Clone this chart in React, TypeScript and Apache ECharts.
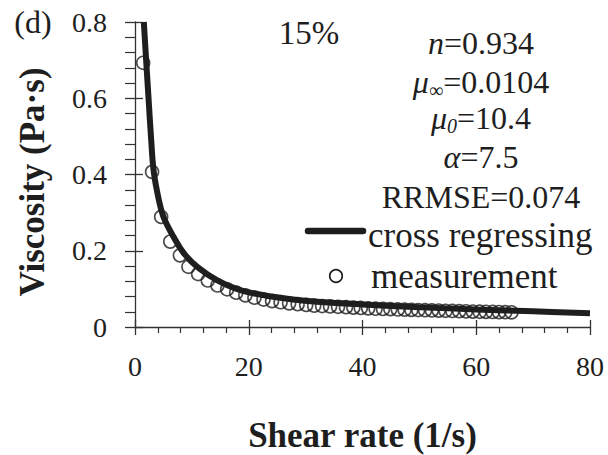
import React, { useEffect, useRef } from "react";
import * as echarts from "echarts";

// Cross-model regression curve
const curveX = [1.55, 2.0, 2.4, 2.85, 3.3, 4.2, 5.0, 6.8, 8.6, 11, 14.4, 18.5, 24, 32, 40, 50, 60, 70, 80];
const curveY = [0.8, 0.69, 0.595, 0.49, 0.407, 0.333, 0.289, 0.236, 0.193, 0.157, 0.123, 0.097, 0.08, 0.066, 0.059, 0.052, 0.046, 0.041, 0.036];

// Measurements
const measX = [1.44, 3.0, 4.6, 6.2, 7.9, 9.4, 11.1, 12.8, 14.5, 16.2, 17.8, 19.4, 21.0, 22.6, 24.1, 25.6, 27.1, 28.6, 30.1, 31.5, 32.9, 34.3, 35.7, 37.1, 38.4, 39.7, 41.0, 42.3, 43.6, 44.9, 46.2, 47.4, 48.6, 49.8, 51.0, 52.2, 53.4, 54.6, 55.8, 57.0, 58.2, 59.4, 60.6, 61.7, 62.9, 64.0, 65.1, 66.2];
const measY = [0.693, 0.407, 0.289, 0.224, 0.188, 0.158, 0.139, 0.122, 0.109, 0.099, 0.090, 0.083, 0.077, 0.072, 0.068, 0.065, 0.062, 0.060, 0.058, 0.056, 0.055, 0.054, 0.053, 0.052, 0.051, 0.050, 0.049, 0.048, 0.0475, 0.047, 0.046, 0.0455, 0.045, 0.0445, 0.044, 0.0435, 0.043, 0.0425, 0.042, 0.0415, 0.041, 0.0405, 0.040, 0.0397, 0.0394, 0.039, 0.0387, 0.0384];

const xRange = [0, 80];
const xInterval = 20;
const xTicks = [0, 20, 40, 60, 80];
const yRange = [0, 0.8];
const yInterval = 0.2;
const yTicks = [0, 0.2, 0.4, 0.6, 0.8];
const yTickLabels = ["0", "0.2", "0.4", "0.6", "0.8"];

const seriesNames = ["cross regressing", "measurement"];
const panelLabel = "(d)";
const concentration = "15%";
const xTitle = "Shear rate (1/s)";
const yTitle = "Viscosity (Pa·s)";

// Annotation lines: pieces [text, style] where style: "t" normal, "i" italic, "s" subscript, "si" italic subscript
const annotationLines: [string, string][][] = [
  [["n", "i"], ["=0.934", "t"]],
  [["μ", "i"], ["∞", "s"], ["=0.0104", "t"]],
  [["μ", "i"], ["0", "si"], ["=10.4", "t"]],
  [["α", "i"], ["=7.5", "t"]],
  [["RRMSE=0.074", "t"]],
];

const FONT = "Liberation Serif";
const INK = "#1e1e1e";

export default function App() {
  const ref = useRef<HTMLDivElement>(null);
  useEffect(() => {
    document.body.style.margin = "0";
    const chart = echarts.init(ref.current!, null, { renderer: "svg" });
    const ctx = document.createElement("canvas").getContext("2d")!;
    const measure = (t: string, f: string) => {
      ctx.font = f;
      return ctx.measureText(t).width;
    };
    const axisCommon = { type: "value", splitLine: { show: false } };
    chart.setOption({
      animation: false,
      backgroundColor: "#fff",
      grid: { left: 135, right: 18, top: 22, bottom: 128 },
      xAxis: [
        {
          ...axisCommon,
          min: xRange[0],
          max: xRange[1],
          interval: xInterval,
          axisLine: { lineStyle: { color: "#333", width: 1.3 } },
          axisTick: { show: true, length: 8, lineStyle: { color: "#333", width: 1.3 } },
          minorTick: { show: true, splitNumber: 5, length: 6, lineStyle: { color: "#333", width: 1.2 } },
          axisLabel: { show: false },
        },
        {
          ...axisCommon,
          position: "bottom",
          min: xRange[0],
          max: xRange[1],
          interval: xInterval,
          axisLine: { show: false },
          axisTick: { show: true, inside: true, length: 7, lineStyle: { color: "#333", width: 1.3 } },
          axisLabel: { show: false },
        },
      ],
      yAxis: [
        {
          ...axisCommon,
          min: yRange[0],
          max: yRange[1],
          interval: yInterval,
          axisLine: { show: true, lineStyle: { color: "#333", width: 1.3 } },
          axisTick: { show: true, length: 10, lineStyle: { color: "#333", width: 1.3 } },
          minorTick: { show: true, splitNumber: 5, length: 10, lineStyle: { color: "#333", width: 1.2 } },
          axisLabel: { show: false },
        },
        {
          ...axisCommon,
          position: "left",
          min: yRange[0],
          max: yRange[1],
          interval: yInterval,
          axisLine: { show: false },
          axisTick: { show: true, inside: true, length: 8, lineStyle: { color: "#333", width: 1.3 } },
          axisLabel: { show: false },
        },
      ],
      series: [
        {
          name: seriesNames[1],
          type: "scatter",
          z: 2,
          symbol: "circle",
          symbolSize: 13,
          itemStyle: { color: "rgba(0,0,0,0)", borderColor: INK, borderWidth: 1.6 },
          data: measX.map((x, i) => [x, measY[i]]),
        },
        {
          name: seriesNames[0],
          type: "line",
          z: 3,
          symbol: "none",
          smooth: 0.4,
          clip: true,
          lineStyle: { color: INK, width: 6 },
          data: curveX.map((x, i) => [x, curveY[i]]),
        },
      ],
    });

    const gx = (v: number) => chart.convertToPixel({ xAxisIndex: 0 }, v) as number;
    const gy = (v: number) => chart.convertToPixel({ yAxisIndex: 0 }, v) as number;
    const axisY = gy(yRange[0]);
    const axisX = gx(xRange[0]);

    const txt = (text: string, x: number, y: number, font: string, align = "center", rotation = 0) => ({
      type: "text",
      x,
      y,
      rotation,
      z: 10,
      style: { text, font, fill: INK, align, verticalAlign: "middle" },
    });

    const graphics: any[] = [];
    // tick labels
    xTicks.forEach((v) => graphics.push(txt(String(v), gx(v), axisY + 39, `28px ${FONT}`)));
    yTicks.forEach((v, i) => graphics.push(txt(yTickLabels[i], axisX - 28, gy(v), `28px ${FONT}`, "right")));
    // titles and labels
    graphics.push(txt(panelLabel, 33, 22, `32px ${FONT}`));
    graphics.push(txt(concentration, 309, 33, `33px ${FONT}`));
    graphics.push(txt(xTitle, (gx(xRange[0]) + gx(xRange[1])) / 2, 435, `bold 35px ${FONT}`));
    graphics.push(txt(yTitle, 32, 182, `bold 35px ${FONT}`, "center", Math.PI / 2));

    // annotations
    const fonts: Record<string, string> = {
      t: `32px ${FONT}`,
      i: `italic 32px ${FONT}`,
      s: `20px ${FONT}`,
      si: `italic 20px ${FONT}`,
    };
    const annY = [43, 82, 118, 157, 197];
    annotationLines.forEach((pieces, li) => {
      const widths = pieces.map(([t, s]) => measure(t, fonts[s]));
      const total = widths.reduce((a, b) => a + b, 0);
      let x = 481 - total / 2;
      pieces.forEach(([t, s], pi) => {
        const dy = s === "s" || s === "si" ? 8 : 0;
        graphics.push(txt(t, x, annY[li] + dy, fonts[s], "left"));
        x += widths[pi];
      });
    });

    // legend
    graphics.push({
      type: "line",
      shape: { x1: 308, y1: 231, x2: 363, y2: 231 },
      style: { stroke: INK, lineWidth: 6.5, lineCap: "round" },
    });
    graphics.push({
      type: "circle",
      shape: { cx: 336, cy: 276, r: 6.3 },
      style: { fill: "none", stroke: INK, lineWidth: 1.6 },
    });
    graphics.push(txt(seriesNames[0], 368, 235, `35px ${FONT}`, "left"));
    graphics.push(txt(seriesNames[1], 371, 276, `35px ${FONT}`, "left"));

    chart.setOption({ graphic: graphics });
    return () => chart.dispose();
  }, []);
  return <div ref={ref} style={{ width: 608, height: 455 }} />;
}
